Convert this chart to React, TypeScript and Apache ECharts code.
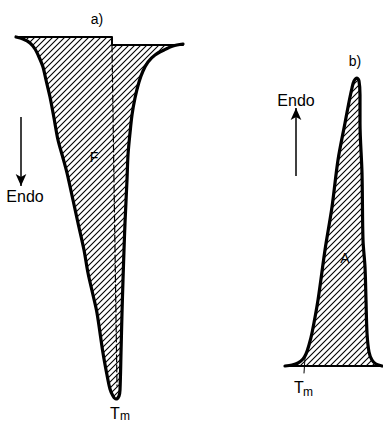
import React, { useEffect, useRef } from "react";
import * as echarts from "echarts";

// Peak a) outline (exotherm/endotherm schematic), picture units
const peakALeft: number[][] = [[16,37],[23,39],[30,43],[35,49],[39,57],[43,67],[46,80],[50,97],[54,118],[58,140],[63,158],[67,173],[73,200],[78,223],[84,250],[88,273],[93,295],[97,313],[103,353],[107,375],[110,389],[113,396]];
const peakATip: number[][] = [[116,399]];
const peakARight: number[][] = [[119,396],[120,390],[121,353],[122,313],[123,280],[124,250],[125,223],[127,180],[128,155],[130,133],[132,115],[135,98],[139,82],[143,71],[148,62],[155,55],[164,50],[173,46],[183,44]];
const baselineA: number[][] = [[16,37],[112,37],[112,45],[183,45]];
const dashedA: number[][] = [[112,45],[117,386]];

// Peak b)
const peakBLeft: number[][] = [[285,366],[292,365],[298,363],[303,359],[306,354],[309,345],[312,333],[318,300],[325,250],[332,207],[338,160],[345,123],[349,102],[352,88],[354,81],[357,78]];
const peakBRight: number[][] = [[359,81],[360,95],[360,123],[362,173],[363,240],[365,267],[366,300],[367,333],[369,352],[372,360],[376,364],[382,366]];
const baselineB: number[][] = [[285,366],[382,366]];
const tmTickB: number[][] = [[305,358],[304,373]];

const arrowA: number[][] = [[21,117],[21,186]];
const arrowB: number[][] = [[296,176],[296,108]];

function makeHatch(): HTMLCanvasElement {
  const s = 6;
  const c = document.createElement("canvas");
  c.width = s;
  c.height = s;
  const ctx = c.getContext("2d")!;
  ctx.strokeStyle = "#000";
  ctx.lineWidth = 1.1;
  ctx.beginPath();
  ctx.moveTo(0, s);
  ctx.lineTo(s, 0);
  ctx.moveTo(-1, 1);
  ctx.lineTo(1, -1);
  ctx.moveTo(s - 1, s + 1);
  ctx.lineTo(s + 1, s - 1);
  ctx.stroke();
  return c;
}

export default function App() {
  const ref = useRef<HTMLDivElement>(null);
  useEffect(() => {
    const chart = echarts.init(ref.current!, null, { renderer: "svg" });
    const hatch = { image: makeHatch(), repeat: "repeat" } as any;
    const outlineA = [...peakALeft, ...peakATip, ...peakARight, [183,45], [112,45], [112,37]];
    const outlineB = [...peakBLeft, ...peakBRight];
    const polySeries = (pts: number[][]) => ({
      type: "custom",
      coordinateSystem: "cartesian2d",
      data: [[0, 0]],
      silent: true,
      z: 1,
      renderItem: (_p: any, api: any) => ({
        type: "polygon",
        shape: { points: pts.map((p) => api.coord(p)), smooth: 0 },
        style: { fill: hatch, stroke: null },
      }),
    });
    const lineSeries = (data: number[][], width: number, extra: any = {}) => ({
      type: "line",
      data,
      showSymbol: false,
      symbol: "none",
      silent: true,
      z: 3,
      lineStyle: { color: "#000", width, cap: "round", join: "round", ...extra },
      smooth: 0,
    });
    const font = "'Liberation Sans', Arial, sans-serif";
    const txt = (text: string, x: number, y: number, size: number) => ({
      type: "text",
      x,
      y,
      style: { text, fill: "#000", font: `${size}px ${font}`, align: "center", verticalAlign: "middle" },
    });
    chart.setOption({
      animation: false,
      grid: { left: 0, right: 0, top: 0, bottom: 0 },
      xAxis: { type: "value", min: 0, max: 383, show: false },
      yAxis: { type: "value", min: 0, max: 423, inverse: true, show: false },
      series: [
        polySeries(outlineA),
        polySeries(outlineB),
        { ...lineSeries([...peakALeft, ...peakATip, ...peakARight], 3.2), smooth: 0.3 },
        lineSeries(baselineA, 2),
        lineSeries(dashedA, 1.2, { type: [7, 3] }),
        { ...lineSeries([...peakBLeft, ...peakBRight], 3.2), smooth: 0.3 },
        lineSeries(baselineB, 2),
        lineSeries(tmTickB, 1),
        {
          type: "line",
          data: [],
          silent: true,
          markLine: {
            silent: true,
            symbol: ["none", "arrow"],
            symbolSize: [8, 12],
            label: { show: false },
            lineStyle: { color: "#000", width: 1.5, type: "solid" },
            data: [
              [{ coord: arrowA[0] }, { coord: arrowA[1] }],
              [{ coord: arrowB[0] }, { coord: arrowB[1] }],
            ],
          },
        },
      ],
      graphic: [
        txt("a)", 97, 19, 14),
        txt("F", 94, 157, 14),
        txt("Endo", 25, 196, 16),
        txt("T", 115, 413, 16),
        txt("m", 125, 416, 12),
        txt("b)", 355, 61, 14),
        txt("Endo", 296, 100, 16),
        txt("A", 345, 258, 14),
        txt("T", 299, 387, 16),
        txt("m", 308, 392, 12),
      ],
    } as any);
    return () => chart.dispose();
  }, []);
  return (
    <div
      ref={ref}
      style={{ position: "fixed", left: 0, top: 0, width: 383, height: 423, background: "#fff" }}
    />
  );
}
